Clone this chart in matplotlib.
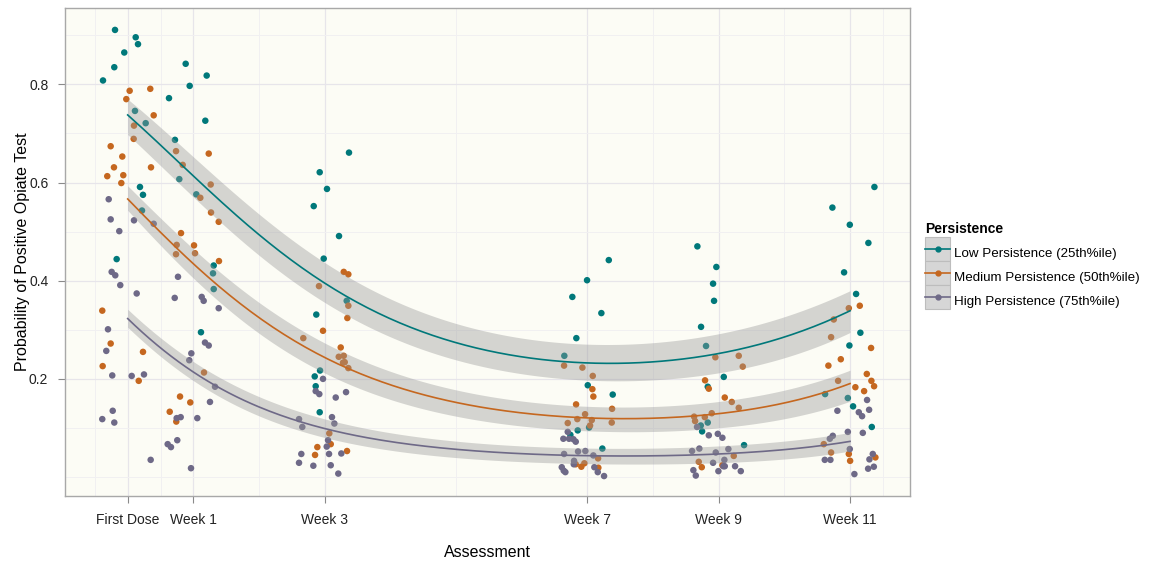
import numpy as np
import matplotlib
matplotlib.use("Agg")
import matplotlib.pyplot as plt
from matplotlib.patches import Rectangle
from matplotlib.lines import Line2D
from matplotlib.legend_handler import HandlerTuple, HandlerPatch

plt.rcParams['font.family'] = ['Liberation Sans', 'DejaVu Sans']

# assessment ticks (weeks since first dose)
tick_pos = [0, 1, 3, 7, 9, 11]
tick_labels = ['First Dose', 'Week 1', 'Week 3', 'Week 7', 'Week 9', 'Week 11']

# jittered observations, one pair of lists per persistence group
low_x = [-0.193, 0.122, 0.157, -0.052, -0.204, -0.376, 0.883, 1.203, 0.944, 0.629, 1.182, 0.111,
         0.274, 0.720, 0.786, 1.045, 0.187, 0.233, 0.218, 1.310, 1.299, 1.310, -0.168, 1.116,
         3.370, 2.924, 3.035, 2.833, 3.218, 2.985, 3.335, 2.872, 2.929, 2.848, 2.863, 2.924,
         7.326, 6.995, 6.771, 7.213, 6.832, 6.649, 7.006, 7.386, 6.853, 7.026, 6.741, 7.228,
         8.675, 8.964, 8.914, 8.929, 8.731, 8.807, 9.077, 8.833, 8.727, 8.833, 8.747, 9.386,
         11.371, 10.731, 10.996, 11.279, 10.909, 11.092, 11.157, 10.990, 10.620, 10.966, 11.046, 11.331]
low_y = [0.911, 0.896, 0.882, 0.865, 0.835, 0.808, 0.842, 0.818, 0.797, 0.772, 0.726, 0.746,
         0.721, 0.687, 0.607, 0.576, 0.591, 0.575, 0.543, 0.431, 0.415, 0.383, 0.444, 0.295,
         0.661, 0.621, 0.587, 0.552, 0.491, 0.445, 0.359, 0.331, 0.217, 0.205, 0.185, 0.132,
         0.442, 0.401, 0.367, 0.334, 0.283, 0.247, 0.187, 0.168, 0.095, 0.101, 0.086, 0.058,
         0.470, 0.428, 0.394, 0.359, 0.306, 0.267, 0.204, 0.184, 0.105, 0.111, 0.093, 0.065,
         0.591, 0.549, 0.514, 0.477, 0.417, 0.373, 0.294, 0.268, 0.169, 0.161, 0.144, 0.102]

med_x = [0.030, 0.344, -0.021, 0.396, 0.096, 0.091, -0.259, -0.082, -0.209, -0.311, -0.067, -0.097,
         0.355, 0.736, 0.838, 1.234, 1.264, 1.106, 1.269, 1.386, 0.812, 0.746, 1.010, 0.736,
         1.025, 1.390, -0.387, -0.259, -0.381, 0.233, 0.168, 1.162, 0.797, 0.953, 0.640, 0.740,
         3.290, 3.360, 2.913, 3.360, 3.345, 2.974, 2.674, 3.244, 3.290, 3.214, 3.279, 3.305,
         3.360, 3.070, 3.092, 2.888, 2.853, 3.340,
         6.645, 6.924, 7.082, 7.076, 7.091, 6.828, 7.376, 6.965, 6.847, 7.067, 7.041, 6.701,
         7.371, 7.163, 6.823, 6.908, 6.954, 7.167,
         8.949, 9.305, 9.366, 8.792, 8.849, 9.092, 9.199, 9.305, 8.894, 8.788, 8.625, 8.640,
         8.696, 8.742, 9.229, 9.056,
         11.148, 10.981, 10.752, 10.711, 11.320, 10.859, 10.670, 11.255, 11.325, 11.366, 10.818, 11.081,
         11.214, 10.600, 10.711, 10.981, 11.001, 11.386]
med_y = [0.787, 0.791, 0.770, 0.737, 0.716, 0.689, 0.674, 0.653, 0.631, 0.613, 0.615, 0.599,
         0.631, 0.664, 0.636, 0.659, 0.596, 0.569, 0.539, 0.520, 0.497, 0.473, 0.472, 0.454,
         0.456, 0.440, 0.339, 0.272, 0.226, 0.255, 0.196, 0.213, 0.164, 0.152, 0.133, 0.113,
         0.418, 0.413, 0.389, 0.349, 0.324, 0.298, 0.283, 0.264, 0.247, 0.245, 0.233, 0.234,
         0.222, 0.089, 0.067, 0.061, 0.045, 0.053,
         0.227, 0.223, 0.206, 0.179, 0.164, 0.148, 0.139, 0.128, 0.118, 0.116, 0.105, 0.110,
         0.111, 0.038, 0.026, 0.021, 0.028, 0.019,
         0.244, 0.247, 0.225, 0.197, 0.180, 0.162, 0.153, 0.141, 0.130, 0.122, 0.123, 0.114,
         0.031, 0.020, 0.043, 0.024,
         0.349, 0.344, 0.321, 0.285, 0.263, 0.240, 0.227, 0.210, 0.196, 0.185, 0.196, 0.183,
         0.175, 0.067, 0.050, 0.047, 0.033, 0.040]

high_x = [-0.289, -0.259, -0.128, 0.096, 0.396, -0.244, -0.189, -0.113, 0.137, 0.766, 0.716, 1.127,
          1.157, 1.386, -0.300, -0.326, -0.235, 0.061, 0.248, 0.969, 0.938, 1.177, 1.234, 1.330,
          1.253, 1.060, -0.228, -0.387, -0.204, 0.746, 0.807, 0.755, 0.609, 0.659, 0.350, 0.964,
          2.974, 2.863, 2.918, 3.168, 3.325, 2.609, 2.659, 3.111, 3.147, 3.051, 2.644, 2.609,
          2.827, 3.031, 3.066, 3.253, 3.092, 3.207,
          6.701, 6.634, 6.721, 6.787, 6.823, 6.645, 6.858, 6.969, 7.091, 6.797, 6.793, 6.610,
          6.640, 6.665, 7.106, 7.158, 7.254,
          8.670, 8.849, 8.986, 9.056, 8.594, 8.705, 8.955, 9.147, 9.086, 8.914, 8.614, 8.651,
          8.995, 9.071, 9.092, 9.249, 9.336,
          11.259, 10.807, 11.133, 11.183, 11.290, 11.194, 10.966, 10.737, 10.692, 10.996, 10.615, 10.701,
          11.346, 11.295, 11.275, 11.362, 11.066]
high_y = [0.566, 0.525, 0.501, 0.523, 0.516, 0.418, 0.411, 0.391, 0.374, 0.408, 0.365, 0.367,
          0.359, 0.344, 0.301, 0.257, 0.207, 0.206, 0.209, 0.252, 0.238, 0.274, 0.268, 0.184,
          0.153, 0.120, 0.135, 0.118, 0.111, 0.120, 0.122, 0.075, 0.067, 0.061, 0.035, 0.018,
          0.200, 0.175, 0.169, 0.162, 0.173, 0.118, 0.102, 0.122, 0.109, 0.075, 0.047, 0.029,
          0.023, 0.062, 0.047, 0.048, 0.024, 0.007,
          0.092, 0.078, 0.078, 0.077, 0.072, 0.047, 0.052, 0.053, 0.044, 0.033, 0.026, 0.020,
          0.013, 0.010, 0.020, 0.010, 0.002,
          0.102, 0.085, 0.088, 0.080, 0.053, 0.058, 0.050, 0.057, 0.035, 0.029, 0.014, 0.003,
          0.012, 0.022, 0.022, 0.022, 0.012,
          0.157, 0.135, 0.132, 0.124, 0.137, 0.090, 0.092, 0.084, 0.078, 0.057, 0.035, 0.035,
          0.047, 0.036, 0.017, 0.021, 0.006]

# model predictions with confidence band, read at each assessment
fit_t = [0, 1, 3, 7, 9, 11]
low_fit = [0.738, 0.613, 0.395, 0.233, 0.251, 0.339]
low_lo = [0.693, 0.581, 0.350, 0.198, 0.213, 0.294]
low_hi = [0.774, 0.643, 0.442, 0.272, 0.289, 0.381]
med_fit = [0.564, 0.439, 0.242, 0.120, 0.130, 0.190]
med_lo = [0.539, 0.412, 0.211, 0.092, 0.103, 0.153]
med_hi = [0.593, 0.466, 0.272, 0.145, 0.153, 0.218]
high_fit = [0.315, 0.225, 0.096, 0.043, 0.048, 0.072]
high_lo = [0.296, 0.208, 0.079, 0.026, 0.031, 0.052]
high_hi = [0.335, 0.245, 0.116, 0.058, 0.065, 0.090]

labels = ['Low Persistence (25th%ile)', 'Medium Persistence (50th%ile)', 'High Persistence (75th%ile)']
colors = ['#00787A', '#C5671F', '#6E6987']


def smooth(t, p, grid):
    # smooth through the read values on the logit scale (the model is logistic)
    p = np.asarray(p)
    lg = np.log(p / (1 - p))
    coef = np.polyfit(t, lg, 3)
    v = np.polyval(coef, grid)
    return 1 / (1 + np.exp(-v))


def key_box(legend, orig_handle, xdescent, ydescent, width, height, fontsize):
    # grey key square centred on the legend line
    return Rectangle((-xdescent, -ydescent / 2), width, height)


fig = plt.figure(figsize=(11.52, 5.62), dpi=100)
ax = fig.add_axes([0.0564, 0.1174, 0.7336, 0.8684])
ax.set_facecolor('#FCFCF5')

ax.set_xlim(-0.955, 11.914)
ax.set_ylim(-0.0387, 0.9557)

ax.set_xticks(tick_pos)
ax.set_xticklabels(tick_labels)
ax.set_xticks([-0.5, 0.5, 2, 5, 8, 10, 11.5], minor=True)
ax.set_yticks([0.2, 0.4, 0.6, 0.8])
ax.set_yticklabels(['0.2', '0.4', '0.6', '0.8'])
ax.set_yticks([0.0, 0.1, 0.3, 0.5, 0.7, 0.9], minor=True)

ax.grid(which='major', color='#E7E5EA', linewidth=0.9, zorder=0)
ax.grid(which='minor', color='#F1F0F1', linewidth=0.7, zorder=0)
ax.set_axisbelow(True)

ax.tick_params(which='major', direction='out', length=5, width=0.8, color='#8A8A8A',
               labelsize=10, labelcolor='#222222', pad=7)
ax.tick_params(which='minor', length=0)
for s in ax.spines.values():
    s.set_color('#A8A8A8')
    s.set_linewidth(1.0)

groups = [(low_x, low_y, low_fit, low_lo, low_hi),
          (med_x, med_y, med_fit, med_lo, med_hi),
          (high_x, high_y, high_fit, high_lo, high_hi)]

for (gx, gy, f, lo, hi), c in zip(groups, colors):
    ax.scatter(gx, gy, s=22, color=c, edgecolors='none', zorder=2)

grid = np.linspace(0, 11, 200)
for (gx, gy, f, lo, hi), c in zip(groups, colors):
    ax.fill_between(grid, smooth(fit_t, lo, grid), smooth(fit_t, hi, grid),
                    color='#999999', alpha=0.4, linewidth=0, zorder=3)
    ax.plot(grid, smooth(fit_t, f, grid), color=c, linewidth=1.2, zorder=4)

ax.set_xlabel('Assessment', fontsize=11.5, labelpad=13)
ax.set_ylabel('Probability of Positive Opiate Test', fontsize=11.5, labelpad=-1)

handles = []
for c in colors:
    box = Rectangle((0, 0), 1, 1, facecolor='#D6D6D6', edgecolor='#BDBDBD', linewidth=0.8)
    ln = Line2D([], [], color=c, linewidth=1.2, marker='o', markersize=3.5)
    handles.append((box, ln))

leg = fig.legend(handles, labels,
                 handler_map={tuple: HandlerTuple(ndivide=1),
                              Rectangle: HandlerPatch(patch_func=key_box)},
                 loc='center left', bbox_to_anchor=(0.795, 0.5236), frameon=False,
                 fontsize=9.6, title='Persistence', handlelength=1.85, handleheight=2.39,
                 labelspacing=0.0, handletextpad=0.3, borderpad=0.2, alignment='left',
                 title_fontproperties={'weight': 'bold', 'size': 10})
leg._legend_box.sep = 3.6

fig.savefig('out.png', dpi=100)
